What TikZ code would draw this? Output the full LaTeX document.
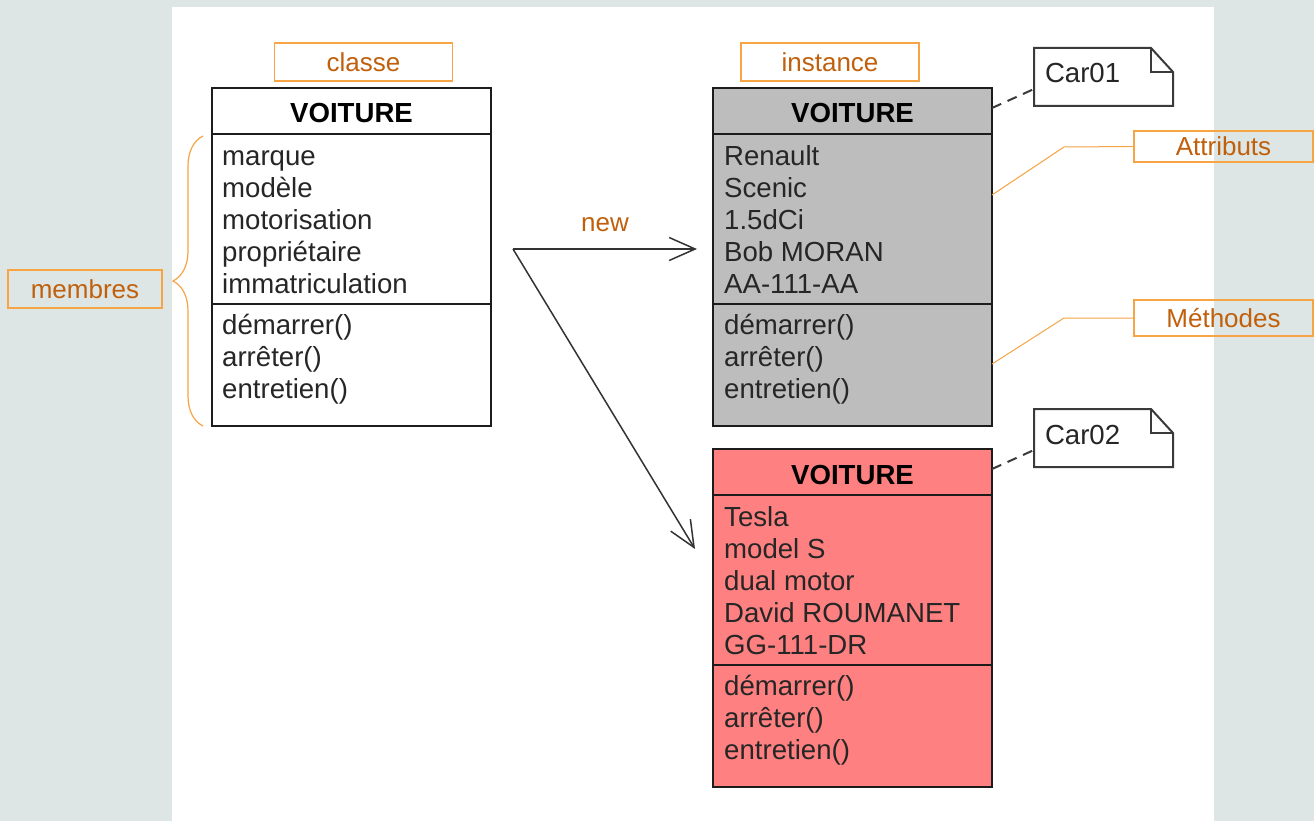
\documentclass[tikz,border=0pt]{standalone}
\usepackage{fontspec}
\setmainfont{Liberation Sans}
\usetikzlibrary{arrows.meta, positioning, decorations.pathreplacing}
\definecolor{pagebg}{HTML}{DDE6E4}
\definecolor{tagorange}{HTML}{F7A445}
\definecolor{tagtext}{HTML}{C0600C}
\definecolor{umlline}{HTML}{1C1C1C}
\definecolor{instgray}{HTML}{BDBDBD}
\definecolor{instred}{HTML}{FF8080}
\definecolor{notegray}{HTML}{3A3A3A}

\tikzset{
  umlhead/.style={draw=umlline, line width=2pt, anchor=north west, minimum width=279pt,
    minimum height=46pt, inner sep=0pt, outer sep=0pt, text height=24pt, text depth=0pt,
    font=\fontsize{27.6}{32}\selectfont\bfseries, text=black},
  umlpart/.style={draw=umlline, line width=2pt, anchor=north west, minimum width=279pt,
    inner sep=0pt, outer sep=0pt},
  umltext/.style={anchor=north west, inner sep=0pt, align=left,
    font=\fontsize{27.6}{32}\selectfont, text=black!85},
  tag/.style={draw=tagorange, line width=1.2pt, inner sep=0pt, outer sep=0pt, text=tagtext,
    font=\fontsize{26}{30}\selectfont},
  callout/.style={draw=tagorange, line width=1pt},
  note/.style={anchor=north west, minimum width=139pt, minimum height=58pt, inner sep=0pt,
    outer sep=0pt, text width=117pt, align=left, text height=19pt, text depth=7pt,
    font=\fontsize{27.6}{32}\selectfont, text=black!85},
  notepath/.style={draw=notegray, line width=2pt},
  notelink/.style={draw=notegray, line width=2pt, dash pattern=on 10pt off 7pt},
  newarrow/.style={draw=black!80, line width=1.5pt, -{Straight Barb[length=26pt, width=23pt]}},
}

\begin{document}
\begin{tikzpicture}[x=1pt,y=-1pt]
\useasboundingbox (0,0) rectangle (1314,821);
\fill[pagebg] (0,0) rectangle (1314,821);
\fill[white] (172,7) rectangle (1214,821);

% classe
\node[umlhead] (cls-head) at (212,88) {VOITURE};
\node[umlpart, minimum height=170pt] (cls-attr) at (cls-head.south west) {};
\node[umlpart, minimum height=122pt] (cls-meth) at (cls-attr.south west) {};
\node[umltext] (cls-attr-txt) at ([xshift=10pt,yshift=-8.6pt]cls-attr.north west)
  {\strut marque\\modèle\\motorisation\\propriétaire\\immatriculation};
\node[umltext] (cls-meth-txt) at ([xshift=10pt,yshift=-7.6pt]cls-meth.north west)
  {\strut démarrer()\\arrêter()\\entretien()};

% instance Car01
\node[umlhead, fill=instgray] (o1-head) at (713,88) {VOITURE};
\node[umlpart, fill=instgray, minimum height=170pt] (o1-attr) at (o1-head.south west) {};
\node[umlpart, fill=instgray, minimum height=122pt] (o1-meth) at (o1-attr.south west) {};
\node[umltext] (o1-attr-txt) at ([xshift=11pt,yshift=-8.6pt]o1-attr.north west)
  {\strut Renault\\Scenic\\1.5dCi\\Bob MORAN\\AA-111-AA};
\node[umltext] (o1-meth-txt) at ([xshift=11pt,yshift=-7.6pt]o1-meth.north west)
  {\strut démarrer()\\arrêter()\\entretien()};

% instance Car02
\node[umlhead, fill=instred] (o2-head) at (713,449) {VOITURE};
\node[umlpart, fill=instred, minimum height=170pt] (o2-attr) at (o2-head.south west) {};
\node[umlpart, fill=instred, minimum height=122pt] (o2-meth) at (o2-attr.south west) {};
\node[umltext] (o2-attr-txt) at ([xshift=11pt,yshift=-8.6pt]o2-attr.north west)
  {\strut Tesla\\model S\\dual motor\\David ROUMANET\\GG-111-DR};
\node[umltext] (o2-meth-txt) at ([xshift=11pt,yshift=-7.6pt]o2-meth.north west)
  {\strut démarrer()\\arrêter()\\entretien()};

% notes
\node[note] (car01) at (1034,48) {Car01};
\node[note] (car02) at (1034,409) {Car02};
\foreach \n in {car01, car02} {
  \draw[notepath] (\n.north west) -- ([xshift=-22pt]\n.north east) -- ([yshift=-24pt]\n.north east)
    -- (\n.south east) -- (\n.south west) -- cycle;
  \draw[notepath] ([xshift=-22pt]\n.north east) |- ([yshift=-24pt]\n.north east);
}
\draw[notelink] ([yshift=3pt]o1-head.east) -- ([yshift=-12pt]car01.west);
\draw[notelink] ([yshift=3pt]o2-head.east) -- ([yshift=-12pt]car02.west);

% labels
\node[tag, minimum width=178pt, minimum height=38pt] (classe) at (363.5,62) {classe};
\node[tag, minimum width=178pt, minimum height=38pt] (instance) at (830,62) {instance};
\node[tag, minimum width=154pt, minimum height=38pt] (membres) at (85,289) {membres};
\node[tag, minimum width=179pt, minimum height=31pt] (attributs) at (1223.5,146.5) {Attributs};
\node[tag, minimum width=179pt, minimum height=36pt] (methodes) at (1223.5,318) {Méthodes};

\draw[callout] ([yshift=24pt]o1-attr.east) -- ++(72pt,48pt) -- (attributs.west);
\draw[callout] ([yshift=1pt]o1-meth.east) -- ++(72pt,46pt) -- (methodes.west);

\draw[draw=tagorange, line width=1.2pt, decorate, decoration={brace, amplitude=30pt}]
  ([xshift=-9pt]cls-meth.south west) -- ([xshift=-9pt,yshift=-2pt]cls-attr.north west);

% new
\coordinate (fork) at ([xshift=22pt,yshift=-30pt]cls-attr.east);
\draw[newarrow] (fork) -- ([xshift=-16pt,yshift=-30pt]o1-attr.west);
\draw[newarrow] (fork) -- ([xshift=-18pt,yshift=-54pt]o2-attr.north west);
\node[text=tagtext, font=\fontsize{26}{30}\selectfont] (new) at (605,225) {new};
\end{tikzpicture}
\end{document}
